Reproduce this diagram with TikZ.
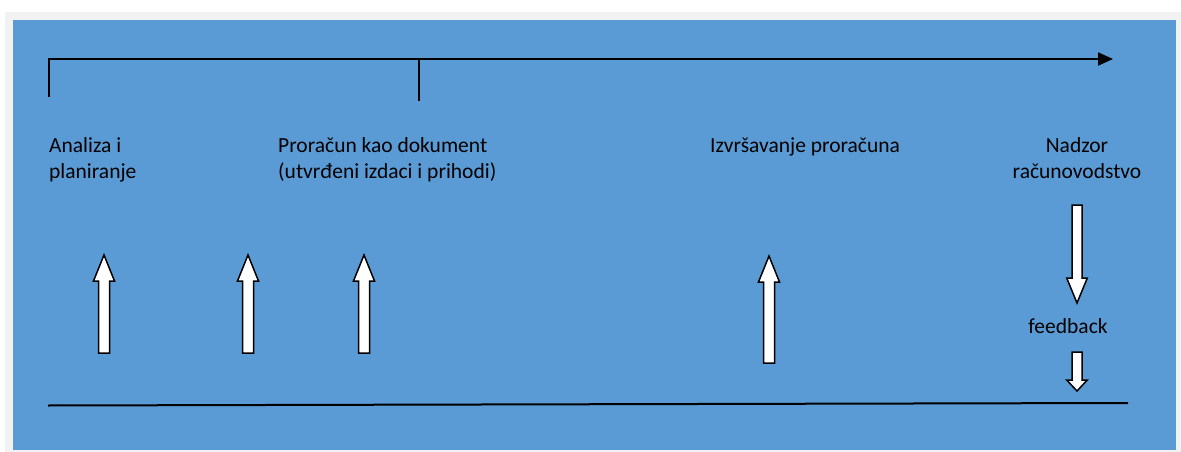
\documentclass[tikz,border=0pt]{standalone}
\usepackage{fontspec}
\setmainfont{Carlito}
\usetikzlibrary{arrows.meta}
\definecolor{chartblue}{HTML}{5B9BD5}
\definecolor{framegray}{HTML}{F2F2F2}
% block arrows: x, base, tip
\newcommand{\blockup}[3]{%
  \draw[blockarrow] (#1-5.5,#2) -- (#1+5.5,#2) -- (#1+5.5,#3+26) --
    (#1+10.5,#3+26) -- (#1,#3) -- (#1-10.5,#3+26) -- (#1-5.5,#3+26) -- cycle;}
% x, top, head start, tip
\newcommand{\blockdown}[4]{%
  \draw[blockarrow] (#1-5,#2) -- (#1+5,#2) -- (#1+5,#3) --
    (#1+10.3,#3) -- (#1,#4) -- (#1-10.3,#3) -- (#1-5,#3) -- cycle;}
\tikzset{
  blockarrow/.style={fill=white,draw=black,line width=1.5pt,line join=miter},
  timeline/.style={line width=2pt},
  steptext/.style={inner sep=0pt,align=left,font={\fontsize{21.5}{26.5}\selectfont}}
}

\begin{document}
\begin{tikzpicture}[x=1pt,y=-1pt]
       \useasboundingbox (0,0) rectangle (1181,452);
       \fill[white] (0,0) rectangle (1181,452);
       \fill[framegray] (5,12) rectangle (1181,452);
       \fill[chartblue] (13,20) rectangle (1176,450);
       % time line
       \coordinate (tlstart) at (49,97);
       \coordinate (tlcorner) at (49,59);
       \coordinate (tlend) at (1113,59);
       \coordinate (tickbot) at (418.5,101);
       \coordinate (ticktop) at (418.5,59);
       \draw[timeline,-{Triangle[length=15pt,width=13pt]}] (tlstart) -- (tlcorner) -- (tlend);
       \draw[timeline] (tickbot) -- (ticktop);
       % phases (base = last line)
       \node[steptext,anchor=base west] (analiza) at (49,178.5) {Analiza i\\planiranje};
       \node[steptext,anchor=base west] (proracun) at (278,178.5) {Proračun kao dokument\\(utvrđeni izdaci i prihodi)};
       \node[steptext,anchor=base west] (izvrsavanje) at (710,152) {Izvršavanje proračuna};
       \node[steptext,align=center,anchor=base] (nadzor) at (1077,178.5) {Nadzor\\računovodstvo};
       \node[steptext,anchor=base] (feedback) at (1068,333) {feedback};
       % arrows
       \blockup{104}{353}{255}
       \blockup{248}{353}{255}
       \blockup{364}{353}{255}
       \blockup{769}{363}{256}
       \blockdown{1077}{205}{278}{303}
       \blockdown{1077}{352}{380}{391}
       % base line
       \coordinate (baseleft) at (48,405.5);
       \coordinate (baseright) at (1128,403);
       \draw[timeline] (baseleft) -- (baseright);
\end{tikzpicture}
\end{document}
